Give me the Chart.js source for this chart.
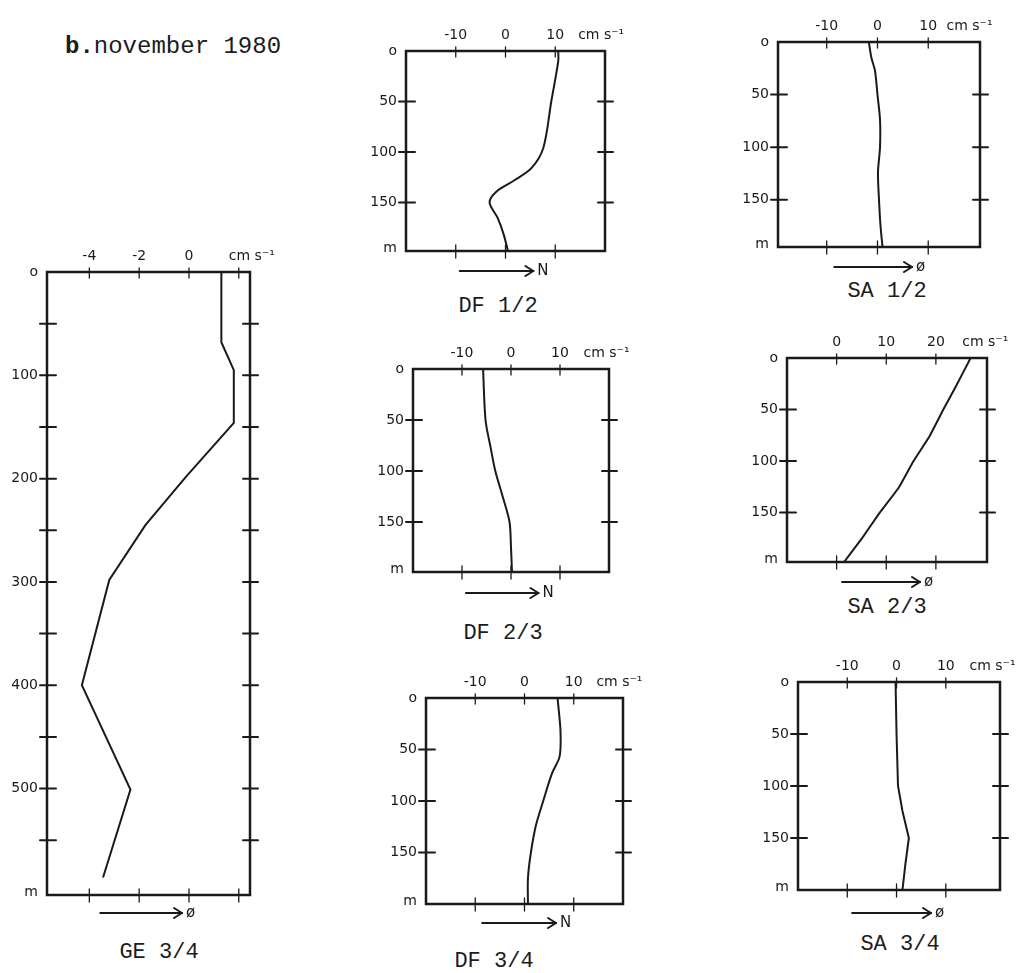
<!DOCTYPE html>
<html>
<head>
<meta charset="utf-8">
<title>b. november 1980 - current profiles</title>
<script src="https://cdn.jsdelivr.net/npm/chart.js@4.4.1/dist/chart.umd.min.js"></script>
<style>
    body { margin: 0; background: #fff; }
    #page { position: relative; width: 1026px; height: 973px; overflow: hidden; background: #fff; }
    #page canvas { position: absolute; }
    .typed { position: absolute; font-family: 'Liberation Mono', 'DejaVu Sans Mono', monospace; color: #1c1c1c; white-space: pre; }
    #title { left: 65px; top: 33px; font-size: 24px; }
    #title b { font-weight: bold; }
    .name { font-size: 22px; transform: translate(-50%, -50%); }
</style>
</head>
<body>
<div id="page">
    <div id="title" class="typed"><b>b.</b>november 1980</div>
    <div class="typed name" style="left:159px; top:952px;">GE 3/4</div>
    <div class="typed name" style="left:498px; top:306px;">DF 1/2</div>
    <div class="typed name" style="left:503px; top:633px;">DF 2/3</div>
    <div class="typed name" style="left:494px; top:961px;">DF 3/4</div>
    <div class="typed name" style="left:887px; top:291px;">SA 1/2</div>
    <div class="typed name" style="left:887px; top:607px;">SA 2/3</div>
    <div class="typed name" style="left:900px; top:944px;">SA 3/4</div>
</div>
<script>
// current speed (cm s-1) against depth (m)
const geDepth = [0, 68, 95, 146, 199, 245, 298, 400, 501, 586];
const geSpeed = [1.3, 1.3, 1.8, 1.8, -0.15, -1.75, -3.2, -4.3, -2.35, -3.45];

const df12Depth = [0, 10, 50, 96, 116, 128, 139, 150, 165, 181, 198];
const df12Speed = [10.6, 10.6, 9.2, 7.6, 5.2, 1.8, -1.8, -3.2, -1.6, -0.4, 0.5];

const df23Depth = [0, 50, 76, 100, 125, 150, 175, 199];
const df23Speed = [-5.7, -5.2, -4.2, -3.2, -1.7, -0.3, 0, 0.2];

const df34Depth = [0, 14, 31, 50, 59, 73, 100, 124, 150, 175, 200];
const df34Speed = [6.7, 7.0, 7.3, 7.3, 7.0, 5.6, 3.8, 2.3, 1.3, 0.7, 0.7];

const sa12Depth = [0, 15, 27, 50, 74, 100, 124, 150, 175, 195];
const sa12Speed = [-1.7, -1.2, -0.5, 0, 0.5, 0.5, 0.1, 0.3, 0.6, 1.0];

const sa23Depth = [0, 26, 50, 77, 100, 126, 152, 175, 198];
const sa23Speed = [27.0, 24.2, 21.5, 18.6, 15.5, 12.5, 8.4, 5.1, 1.5];

const sa34Depth = [0, 50, 100, 124, 150, 175, 200];
const sa34Speed = [-0.2, 0, 0.3, 1.2, 2.5, 1.8, 1.2];

// tick values and labels
const geSpeedTicks = [-4, -2, 0, 2];
const geSpeedLabels = ['-4', '-2', '0'];
const geDepthTicks = [50, 100, 150, 200, 250, 300, 350, 400, 450, 500, 550];
const geDepthLabelAt = [0, 100, 200, 300, 400, 500];
const geDepthLabels = ['o', '100', '200', '300', '400', '500'];

const shelfSpeedTicks = [-10, 0, 10];
const shelfSpeedLabels = ['-10', '0', '10'];
const sa23SpeedTicks = [0, 10, 20];
const sa23SpeedLabels = ['0', '10', '20'];
const shelfDepthTicks = [50, 100, 150];
const shelfDepthLabelAt = [0, 50, 100, 150];
const shelfDepthLabels = ['o', '50', '100', '150'];

const ink = '#1a1a1a';

// frame, crossing ticks, hand labels and the direction arrow of one profile
const profileFrame = {
    id: 'profileFrame',
    afterDraw(chart, args, opts) {
        const ctx = chart.ctx;
        const a = chart.chartArea;
        const x = chart.scales.x;
        const y = chart.scales.y;
        const seg = (x1, y1, x2, y2) => { ctx.beginPath(); ctx.moveTo(x1, y1); ctx.lineTo(x2, y2); ctx.stroke(); };

        ctx.save();
        ctx.strokeStyle = ink;
        ctx.fillStyle = ink;
        ctx.lineCap = 'round';

        // box
        ctx.lineWidth = 2.5;
        ctx.strokeRect(a.left, a.top, a.right - a.left, a.bottom - a.top);

        // speed ticks, top and bottom
        ctx.lineWidth = 1.3;
        opts.speedTicks.forEach(v => {
            const px = x.getPixelForValue(v);
            seg(px, a.top - 4, px, a.top + 6);
            seg(px, a.bottom - 6, px, a.bottom + 7);
        });

        // depth ticks, left and right
        ctx.lineWidth = 2;
        opts.depthTicks.forEach(d => {
            const py = y.getPixelForValue(d);
            seg(a.left - 7, py, a.left + 9, py);
            seg(a.right - 7, py, a.right + 8, py);
        });

        // labels
        ctx.font = '14px "DejaVu Sans"';
        ctx.textAlign = 'center';
        ctx.textBaseline = 'alphabetic';
        opts.speedLabels.forEach((t, i) => {
            ctx.fillText(t, x.getPixelForValue(opts.speedTicks[i]), a.top - 12);
        });
        ctx.textAlign = 'left';
        ctx.fillText('cm s\u207B\u00B9', x.getPixelForValue(opts.unitAt), a.top - 12);

        ctx.textAlign = 'right';
        ctx.textBaseline = 'middle';
        opts.depthLabels.forEach((t, i) => {
            ctx.fillText(t, a.left - 9, y.getPixelForValue(opts.depthLabelAt[i]));
        });
        ctx.fillText('m', a.left - 9, a.bottom - 3);

        // direction arrow under the box
        const ay = a.bottom + opts.arrowDrop;
        const x1 = x.getPixelForValue(opts.arrowFrom);
        const x2 = x.getPixelForValue(opts.arrowTo);
        ctx.lineWidth = 2;
        seg(x1, ay, x2, ay);
        seg(x2 - 8, ay - 5, x2, ay);
        seg(x2 - 8, ay + 5, x2, ay);
        ctx.font = '15px "DejaVu Sans"';
        ctx.textAlign = 'left';
        ctx.fillText(opts.heading, x2 + 4, ay);

        ctx.restore();
    }
};

// draw one profile; box = pixel edges of the frame on the page
function drawProfile(box, speed, depth, frame) {
    const margin = { left: 48, top: 42, right: 50, bottom: 40 };
    const canvas = document.createElement('canvas');
    const w = box.right - box.left + margin.left + margin.right;
    const h = box.bottom - box.top + margin.top + margin.bottom;
    canvas.width = w;
    canvas.height = h;
    canvas.style.left = (box.left - margin.left) + 'px';
    canvas.style.top = (box.top - margin.top) + 'px';
    document.getElementById('page').appendChild(canvas);

    return new Chart(canvas.getContext('2d'), {
        type: 'line',
        data: {
            datasets: [{
                data: depth.map((d, i) => ({ x: speed[i], y: d })),
                borderColor: ink,
                borderWidth: 2,
                pointRadius: 0,
                tension: frame.tension,
                fill: false
            }]
        },
        options: {
            responsive: false,
            animation: false,
            devicePixelRatio: 1,
            layout: { padding: margin },
            plugins: {
                legend: { display: false },
                tooltip: { enabled: false },
                profileFrame: frame
            },
            scales: {
                x: { type: 'linear', min: frame.speedMin, max: frame.speedMax, display: false },
                y: { type: 'linear', min: 0, max: frame.depthMax, reverse: true, display: false }
            }
        },
        plugins: [profileFrame]
    });
}

document.addEventListener('DOMContentLoaded', function() {
    const shelf = {
        speedTicks: shelfSpeedTicks, speedLabels: shelfSpeedLabels,
        depthTicks: shelfDepthTicks, depthLabelAt: shelfDepthLabelAt, depthLabels: shelfDepthLabels,
        speedMin: -20, speedMax: 20, depthMax: 200, unitAt: 14.6, tension: 0.3
    };

    drawProfile({ left: 47, top: 272, right: 250, bottom: 895 }, geSpeed, geDepth, {
        speedTicks: geSpeedTicks, speedLabels: geSpeedLabels,
        depthTicks: geDepthTicks, depthLabelAt: geDepthLabelAt, depthLabels: geDepthLabels,
        speedMin: -5.7, speedMax: 2.45, depthMax: 603, unitAt: 1.6, tension: 0,
        arrowFrom: -3.56, arrowTo: -0.28, arrowDrop: 18, heading: '\u00F8'
    });

    drawProfile({ left: 406, top: 51, right: 605, bottom: 251 }, df12Speed, df12Depth, Object.assign({}, shelf, {
        depthMax: 198, arrowFrom: -9.2, arrowTo: 5.6, arrowDrop: 20, heading: 'N'
    }));
    drawProfile({ left: 413, top: 369, right: 609, bottom: 572 }, df23Speed, df23Depth, Object.assign({}, shelf, {
        depthMax: 199, unitAt: 14.8, arrowFrom: -9.2, arrowTo: 5.6, arrowDrop: 21, heading: 'N'
    }));
    drawProfile({ left: 426, top: 698, right: 623, bottom: 904 }, df34Speed, df34Depth, Object.assign({}, shelf, {
        arrowFrom: -8.6, arrowTo: 6.4, arrowDrop: 19, heading: 'N'
    }));

    drawProfile({ left: 778, top: 42, right: 980, bottom: 247 }, sa12Speed, sa12Depth, Object.assign({}, shelf, {
        speedMin: -19.6, speedMax: 20.2, depthMax: 195, unitAt: 13.6,
        arrowFrom: -8.5, arrowTo: 6.8, arrowDrop: 20, heading: '\u00F8'
    }));
    drawProfile({ left: 787, top: 358, right: 987, bottom: 562 }, sa23Speed, sa23Depth, Object.assign({}, shelf, {
        speedTicks: sa23SpeedTicks, speedLabels: sa23SpeedLabels,
        speedMin: -10, speedMax: 30.3, depthMax: 198, unitAt: 25.3, tension: 0.1,
        arrowFrom: 1.1, arrowTo: 16.8, arrowDrop: 20, heading: '\u00F8'
    }));
    drawProfile({ left: 798, top: 682, right: 1000, bottom: 890 }, sa34Speed, sa34Depth, Object.assign({}, shelf, {
        speedMax: 21, unitAt: 14.8, tension: 0,
        arrowFrom: -9, arrowTo: 7, arrowDrop: 23, heading: '\u00F8'
    }));
});
</script>
</body>
</html>
